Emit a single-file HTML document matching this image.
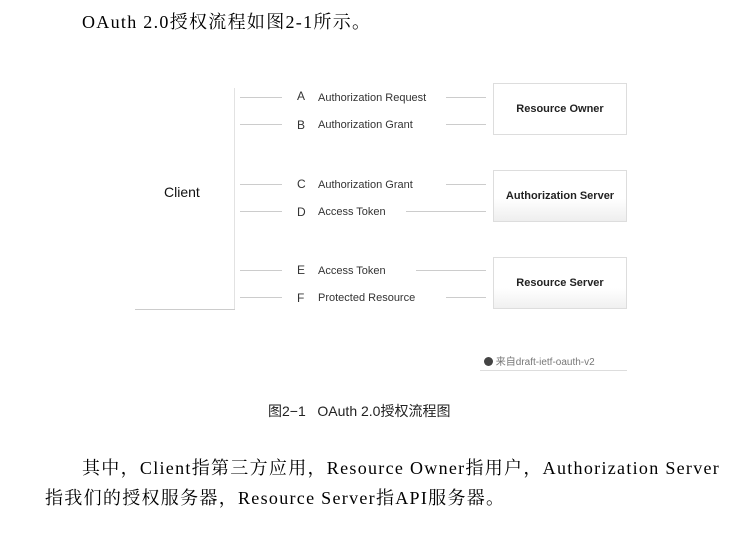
<!DOCTYPE html>
<html><head><meta charset="utf-8"><style>
body{margin:0;width:745px;height:533px;background:#fff;position:relative;overflow:hidden;font-family:"Liberation Sans","Noto Sans CJK SC",sans-serif;color:#222}
.a{position:absolute;white-space:nowrap}
.serif{font-family:"Liberation Serif","Noto Serif CJK SC",serif;font-size:18px;letter-spacing:1.3px;color:#000}
.l{position:absolute;height:1px;background:#ccc}
.box{position:absolute;border:1px solid #ddd;box-sizing:border-box;font-size:11px;font-weight:bold;display:flex;align-items:center;justify-content:center;color:#222}
.s{font-size:11px;color:#333}
.k{font-size:12px;color:#333}
</style></head><body>
<div class="a serif" style="left:82px;top:8px">OAuth 2.0授权流程如图2-1所示。</div>

<div class="l" style="left:234px;top:88px;width:1px;height:222px;background:#e2e2e2"></div>
<div class="l" style="left:135px;top:309px;width:100px;background:#ccc"></div>
<div class="a" style="left:164px;top:184px;font-size:14px;color:#111">Client</div>

<div class="l" style="left:240px;top:97px;width:42px"></div>
<div class="l" style="left:446px;top:97px;width:40px"></div>
<div class="a k" style="left:297px;top:89px">A</div><div class="a s" style="left:318px;top:92px">Authorization Request</div>
<div class="l" style="left:240px;top:124px;width:42px"></div>
<div class="l" style="left:446px;top:124px;width:40px"></div>
<div class="a k" style="left:297px;top:118px">B</div><div class="a s" style="left:318px;top:119px">Authorization Grant</div>

<div class="l" style="left:240px;top:184px;width:42px"></div>
<div class="l" style="left:446px;top:184px;width:40px"></div>
<div class="a k" style="left:297px;top:177px">C</div><div class="a s" style="left:318px;top:179px">Authorization Grant</div>
<div class="l" style="left:240px;top:211px;width:42px"></div>
<div class="l" style="left:406px;top:211px;width:80px"></div>
<div class="a k" style="left:297px;top:205px">D</div><div class="a s" style="left:318px;top:206px">Access Token</div>

<div class="l" style="left:240px;top:270px;width:42px"></div>
<div class="l" style="left:416px;top:270px;width:70px"></div>
<div class="a k" style="left:297px;top:263px">E</div><div class="a s" style="left:318px;top:265px">Access Token</div>
<div class="l" style="left:240px;top:297px;width:42px"></div>
<div class="l" style="left:446px;top:297px;width:40px"></div>
<div class="a k" style="left:297px;top:291px">F</div><div class="a s" style="left:318px;top:292px">Protected Resource</div>

<div class="box" style="left:493px;top:83px;width:134px;height:52px">Resource Owner</div>
<div class="box" style="left:493px;top:170px;width:134px;height:52px;background:linear-gradient(#fff 55%,#eee)">Authorization Server</div>
<div class="box" style="left:493px;top:257px;width:134px;height:52px;background:linear-gradient(#fff 60%,#f0f0f0)">Resource Server</div>

<div class="a" style="left:480px;top:353px;width:147px;height:17px;border-bottom:1px solid #ddd;font-size:10px;color:#777"><span style="display:inline-block;width:9px;height:9px;border-radius:50%;background:#444;vertical-align:-1px;margin-left:4px"></span> 来自draft-ietf-oauth-v2</div>

<div class="a" style="left:268px;top:401px;font-size:14px;color:#222">图2−1&nbsp;&nbsp;&nbsp;OAuth 2.0授权流程图</div>

<div class="a serif" style="left:82px;top:454px">其中，Client指第三方应用，Resource Owner指用户，Authorization Server</div>
<div class="a serif" style="left:45px;top:484px">指我们的授权服务器，Resource Server指API服务器。</div>
</body></html>
